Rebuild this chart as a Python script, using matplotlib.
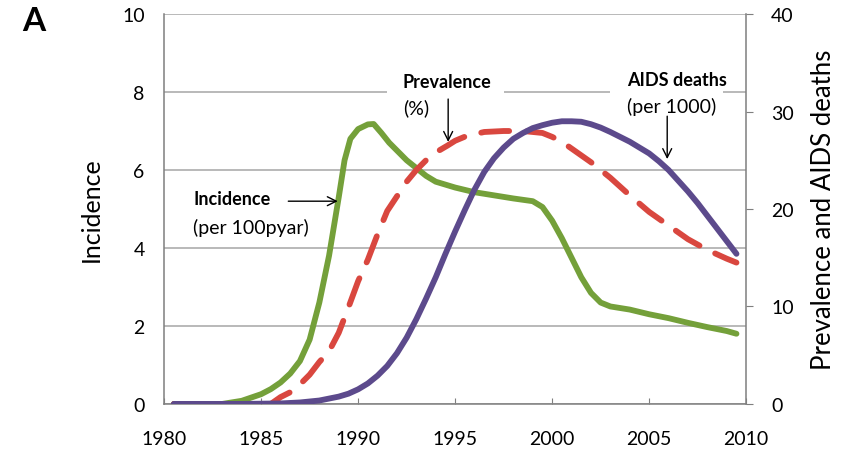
import matplotlib
matplotlib.use('Agg')
import matplotlib.pyplot as plt
from matplotlib.patches import Rectangle

plt.rcParams['font.family'] = ['Lato', 'DejaVu Sans']

# incidence (per 100 pyar), left axis
inc_years = [1980.5, 1981, 1982, 1983, 1984, 1985, 1985.5, 1986, 1986.5, 1987, 1987.5,
             1988, 1988.5, 1989, 1989.3, 1989.6, 1990, 1990.5, 1990.8, 1991.2, 1991.6,
             1992, 1992.5, 1993, 1993.5, 1994, 1995, 1996, 1997, 1998, 1999, 1999.5,
             2000, 2000.5, 2001, 2001.5, 2002, 2002.5, 2003, 2004, 2005, 2006, 2007,
             2008, 2009, 2009.5]
incidence = [0, 0, 0, 0, 0.08, 0.25, 0.38, 0.55, 0.78, 1.1, 1.65,
             2.6, 3.8, 5.3, 6.25, 6.8, 7.05, 7.17, 7.18, 6.95, 6.7,
             6.5, 6.25, 6.05, 5.85, 5.7, 5.55, 5.43, 5.35, 5.27, 5.2, 5.05,
             4.7, 4.25, 3.75, 3.25, 2.85, 2.6, 2.5, 2.42, 2.3, 2.2, 2.08,
             1.97, 1.87, 1.8]

# prevalence (%), right axis
prev_years = [1980.5, 1982, 1984, 1985.5, 1986, 1986.5, 1987, 1987.5, 1988, 1988.5,
              1989, 1989.5, 1990, 1990.5, 1991, 1991.5, 1992, 1992.5, 1993, 1993.5,
              1994, 1994.6, 1995, 1995.6, 1996.5, 1997.5, 1998.5, 1999.5, 2000,
              2000.5, 2001, 2001.5, 2002, 2003, 2004, 2005, 2006, 2007, 2008, 2009, 2009.5]
prevalence = [0, 0, 0, 0, 0.7, 1.2, 2.0, 3.0, 4.3, 5.4,
              7.3, 9.9, 12.6, 14.8, 17.4, 19.8, 21.3, 22.8, 24.0, 25.0,
              25.8, 26.5, 27.0, 27.5, 27.9, 28.0, 28.0, 27.8, 27.4,
              26.9, 26.2, 25.5, 24.8, 23.2, 21.4, 19.7, 18.3, 16.9, 15.8, 14.9, 14.5]

# AIDS deaths (per 1000), right axis
death_years = [1980.5, 1982, 1984, 1986, 1987, 1988, 1989, 1989.5, 1990, 1990.5,
               1991, 1991.5, 1992, 1992.5, 1993, 1993.5, 1994, 1994.5, 1995, 1995.5,
               1996, 1996.5, 1997, 1997.5, 1998, 1998.5, 1999, 1999.5, 2000, 2000.5,
               2001, 2001.5, 2002, 2002.5, 2003, 2004, 2005, 2005.5, 2006, 2006.5,
               2007, 2007.5, 2008, 2008.5, 2009, 2009.5]
deaths = [0, 0, 0, 0.05, 0.15, 0.35, 0.75, 1.05, 1.5, 2.1,
          2.9, 3.9, 5.2, 6.8, 8.7, 10.8, 13.0, 15.4, 17.7, 19.9,
          22.0, 23.8, 25.2, 26.3, 27.2, 27.8, 28.3, 28.6, 28.85, 29.0,
          29.0, 28.95, 28.7, 28.35, 27.9, 26.9, 25.7, 24.9, 24.0, 22.9,
          21.8, 20.6, 19.3, 18.0, 16.7, 15.4]

green = '#74a03a'
red = '#d9473f'
purple = '#5c4a8c'
axis_grey = '#7f7f7f'
grid_grey = '#a6a6a6'

fig = plt.figure(figsize=(8.46, 4.56), dpi=100)
ax = fig.add_axes([0.194, 0.112, 0.688, 0.855])
ax2 = ax.twinx()

ax.plot(inc_years, incidence, color=green, lw=4.2, solid_capstyle='round',
        solid_joinstyle='round', zorder=2)
ax2.plot(prev_years, prevalence, color=red, lw=4.2, dashes=(4.8, 3.0),
         dash_capstyle='round', zorder=2)
ax2.plot(death_years, deaths, color=purple, lw=4.2, solid_capstyle='round',
         solid_joinstyle='round', zorder=3)

ax.set_xlim(1980, 2010)
ax.set_ylim(0, 10)
ax2.set_ylim(0, 40)
ax.set_xticks([1980, 1985, 1990, 1995, 2000, 2005, 2010])
ax.set_yticks([0, 2, 4, 6, 8, 10])
ax2.set_yticks([0, 10, 20, 30, 40])

ax.yaxis.grid(True, color=grid_grey, lw=1.1)
ax.set_axisbelow('line')

for a in (ax, ax2):
    a.spines['top'].set_visible(False)
    for s in ('left', 'bottom', 'right'):
        a.spines[s].set_color(axis_grey)
        a.spines[s].set_linewidth(1.1)
ax.spines['right'].set_visible(False)
ax2.spines['left'].set_visible(False)
ax2.spines['bottom'].set_visible(False)

ax.tick_params(axis='x', direction='in', length=4, color=axis_grey, labelsize=14,
               pad=19, top=False)
ax.tick_params(axis='y', length=0, labelsize=14, pad=14)
ax2.tick_params(axis='y', direction='out', length=5, color=axis_grey, labelsize=14,
                pad=13)

ax.set_ylabel('Incidence', fontsize=18, labelpad=14)
ax2.set_ylabel('Prevalence and AIDS deaths', fontsize=18.5, labelpad=12)

# white patches behind the upper labels
ax.add_patch(Rectangle((1991.5, 7.45), 6.0, 1.2, facecolor='white', edgecolor='none',
                       zorder=1.8))
ax.add_patch(Rectangle((2003.0, 7.45), 5.8, 1.2, facecolor='white', edgecolor='none',
                       zorder=1.8))

arrow = dict(arrowstyle='->', color='black', lw=1.0, shrinkA=0, shrinkB=0,
             mutation_scale=16)
ax.text(1981.5, 5.26, 'Incidence', fontsize=13, fontweight='bold', va='center',
        zorder=4)
ax.text(1981.5, 4.54, '(per 100pyar)', fontsize=14, va='center', zorder=4)
ax.annotate('', xy=(1988.95, 5.2), xytext=(1986.4, 5.2), arrowprops=arrow, zorder=4)

ax.text(1992.3, 8.28, 'Prevalence', fontsize=13, fontweight='bold', va='center',
        zorder=4)
ax.text(1992.3, 7.6, '(%)', fontsize=14, va='center', zorder=4)
ax.annotate('', xy=(1994.64, 6.72), xytext=(1994.64, 7.82), arrowprops=arrow, zorder=4)

ax.text(2003.85, 8.33, 'AIDS deaths', fontsize=13, fontweight='bold', va='center',
        zorder=4)
ax.text(2003.85, 7.64, '(per 1000)', fontsize=14, va='center', zorder=4)
ax.annotate('', xy=(2005.93, 6.28), xytext=(2005.93, 7.38), arrowprops=arrow, zorder=4)

fig.text(0.026, 0.952, 'A', fontsize=24, fontweight='bold', va='center')

fig.savefig('out.png', dpi=100)
